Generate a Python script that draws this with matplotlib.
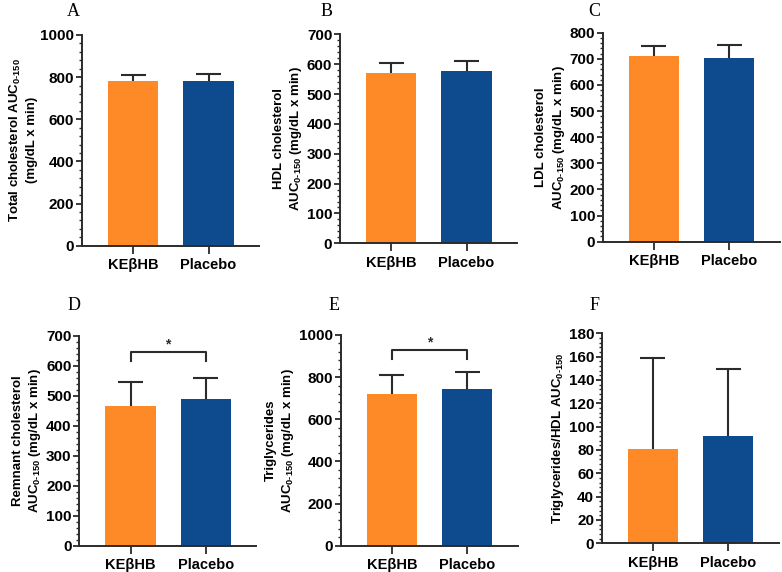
import matplotlib
matplotlib.use("Agg")
import matplotlib.pyplot as plt
from matplotlib.ticker import MultipleLocator

plt.rcParams['font.family'] = ['Liberation Sans', 'DejaVu Sans']
plt.rcParams['font.weight'] = 'bold'
plt.rcParams['mathtext.fontset'] = 'custom'
plt.rcParams['mathtext.rm'] = 'Liberation Sans:bold'
plt.rcParams['mathtext.bf'] = 'Liberation Sans:bold'
plt.rcParams['mathtext.it'] = 'Liberation Sans:bold'

# groups
groups = ["KEβHB", "Placebo"]

# panel data: bar means and upper error (SD)
total_chol = [783, 784]
total_chol_err = [27, 30]
hdl_chol = [571, 576]
hdl_chol_err = [33, 34]
ldl_chol = [710, 705]
ldl_chol_err = [41, 48]
remnant_chol = [466, 488]
remnant_chol_err = [81, 70]
trig = [720, 745]
trig_err = [90, 78]
trig_hdl = [81, 92]
trig_hdl_err = [78, 57]

panel_letters = ["A", "B", "C", "D", "E", "F"]
y_max = [1000, 700, 800, 700, 1000, 180]
y_major = [200, 100, 100, 100, 200, 20]
y_minor = [40, 20, 20, 20, 40, 4]

sub = r"AUC$_{0\text{-}150}$"
ylabels = [
    "Total cholesterol " + sub + "\n(mg/dL x min)",
    "HDL cholesterol\n" + sub + " (mg/dL x min)",
    "LDL cholesterol\n" + sub + " (mg/dL x min)",
    "Remnant cholesterol\n" + sub + " (mg/dL x min)",
    "Triglycerides\n" + sub + " (mg/dL x min)",
    "Triglycerides/HDL " + sub,
]

# significance brackets (panel D and E): bracket height, leg bottom, star height
sig_panels = {3: (647, 617, 672), 4: (930, 886, 965)}

means = [total_chol, hdl_chol, ldl_chol, remnant_chol, trig, trig_hdl]
errs = [total_chol_err, hdl_chol_err, ldl_chol_err, remnant_chol_err, trig_err, trig_hdl_err]

colors = ["#FD8A27", "#0D4A8E"]
dark = "#2b2b2b"

# axes rectangles in figure pixels: left, top, bottom
W, H = 782, 572
boxes = [
    (82, 35, 245.7), (340, 34.3, 243.3), (602.7, 32.7, 241.7),
    (79.3, 335.7, 545.7), (340.7, 335, 545.7), (601.7, 333.3, 543.3),
]
letter_pos = [(73, 3), (327, 3), (594, 3), (74, 297), (334, 297), (595, 297)]

fig = plt.figure(figsize=(W / 100, H / 100), dpi=100)

for i in range(6):
    x0, ytop, ybot = boxes[i]
    ax = fig.add_axes([x0 / W, (H - ybot) / H, 177 / W, (ybot - ytop) / H])
    xs = [0, 1]
    ax.bar(xs, means[i], width=0.67, color=colors, zorder=2)
    # upper error bars only
    tops = [m + e for m, e in zip(means[i], errs[i])]
    ax.vlines(xs, means[i], tops, color=dark, lw=1.5, zorder=3)
    ax.hlines(tops, [x - 0.165 for x in xs], [x + 0.165 for x in xs],
              color=dark, lw=1.5, zorder=3)

    ax.set_xlim(-0.68, 1.67)
    ax.set_ylim(0, y_max[i])
    ax.yaxis.set_major_locator(MultipleLocator(y_major[i]))
    ax.yaxis.set_minor_locator(MultipleLocator(y_minor[i]))
    ax.set_xticks(xs)
    ax.set_xticklabels(groups, fontsize=10.5, fontweight='bold')
    ax.tick_params(axis='y', which='major', length=4, width=1.3, labelsize=11,
                   color=dark, pad=1.5)
    ax.tick_params(axis='y', which='minor', length=2.5, width=1.0, color=dark)
    ax.tick_params(axis='x', length=6, width=1.3, color=dark, pad=3)
    for s in ['top', 'right']:
        ax.spines[s].set_visible(False)
    for s in ['left', 'bottom']:
        ax.spines[s].set_linewidth(1.4)
        ax.spines[s].set_color(dark)
    ax.set_ylabel(ylabels[i], fontsize=9.5, fontweight='bold', labelpad=2,
                  linespacing=1.3)

    if i in sig_panels:
        yb, yl, ys = sig_panels[i]
        ax.plot([0, 0, 1, 1], [yl, yb, yb, yl], color=dark, lw=1.5, zorder=3)
        ax.text(0.5, ys, "*", ha='center', va='center', fontsize=10, color=dark)

    lx, ly = letter_pos[i]
    fig.text(lx / W, 1 - ly / H, panel_letters[i], ha='center', va='top',
             fontsize=13, family='Liberation Serif', fontweight='normal')

fig.savefig("out.png", dpi=100)
